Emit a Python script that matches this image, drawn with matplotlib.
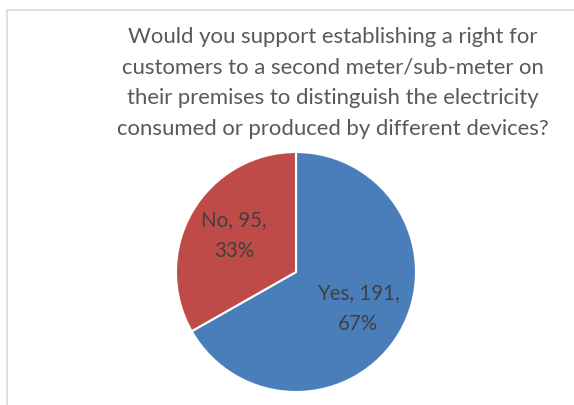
import matplotlib
matplotlib.use("Agg")
import matplotlib.pyplot as plt
from matplotlib.lines import Line2D

# survey answers
answers = ["Yes", "No"]
counts = [191, 95]
colors = ["#4A7EBB", "#BE4B48"]
title = ("Would you support establishing a right for\n"
         "customers to a second meter/sub-meter on\n"
         "their premises to distinguish the electricity\n"
         "consumed or produced by different devices?")

W, H = 574, 405
fig = plt.figure(figsize=(W / 100, H / 100), dpi=100)
fig.patch.set_facecolor("white")

# chart frame (left and top edges only visible)
frame_col = "#D9D9D9"
fig.add_artist(Line2D([7 / W, 7 / W], [0, 1 - 10 / H], color=frame_col, lw=1.2))
fig.add_artist(Line2D([7 / W, 1], [1 - 10 / H, 1 - 10 / H], color=frame_col, lw=1.2))

fig.text(333 / W, 1 - 27 / H, title, ha="center", va="top", fontsize=15.9,
         family="Lato", color="#595959", linespacing=1.66)

# pie centred at (296, 272) px, radius 120 px
cx, cy, r = 296, 272, 120
ax = fig.add_axes([(cx - r) / W, (H - cy - r) / H, 2 * r / W, 2 * r / H])

total = sum(counts)
labels = [f"{a}, {c},\n{round(100 * c / total)}%" for a, c in zip(answers, counts)]
wedges, texts = ax.pie(counts, colors=colors, startangle=90, counterclock=False,
                       labels=labels, labeldistance=0.6,
                       wedgeprops=dict(edgecolor="white", linewidth=1.5),
                       textprops=dict(fontsize=14.8, family="Lato", color="#404040",
                                      ha="center", va="center", linespacing=1.7))
ax.set_xlim(-1, 1)
ax.set_ylim(-1, 1)
ax.set_aspect("equal")
ax.axis("off")

fig.savefig("out.png", dpi=100)
